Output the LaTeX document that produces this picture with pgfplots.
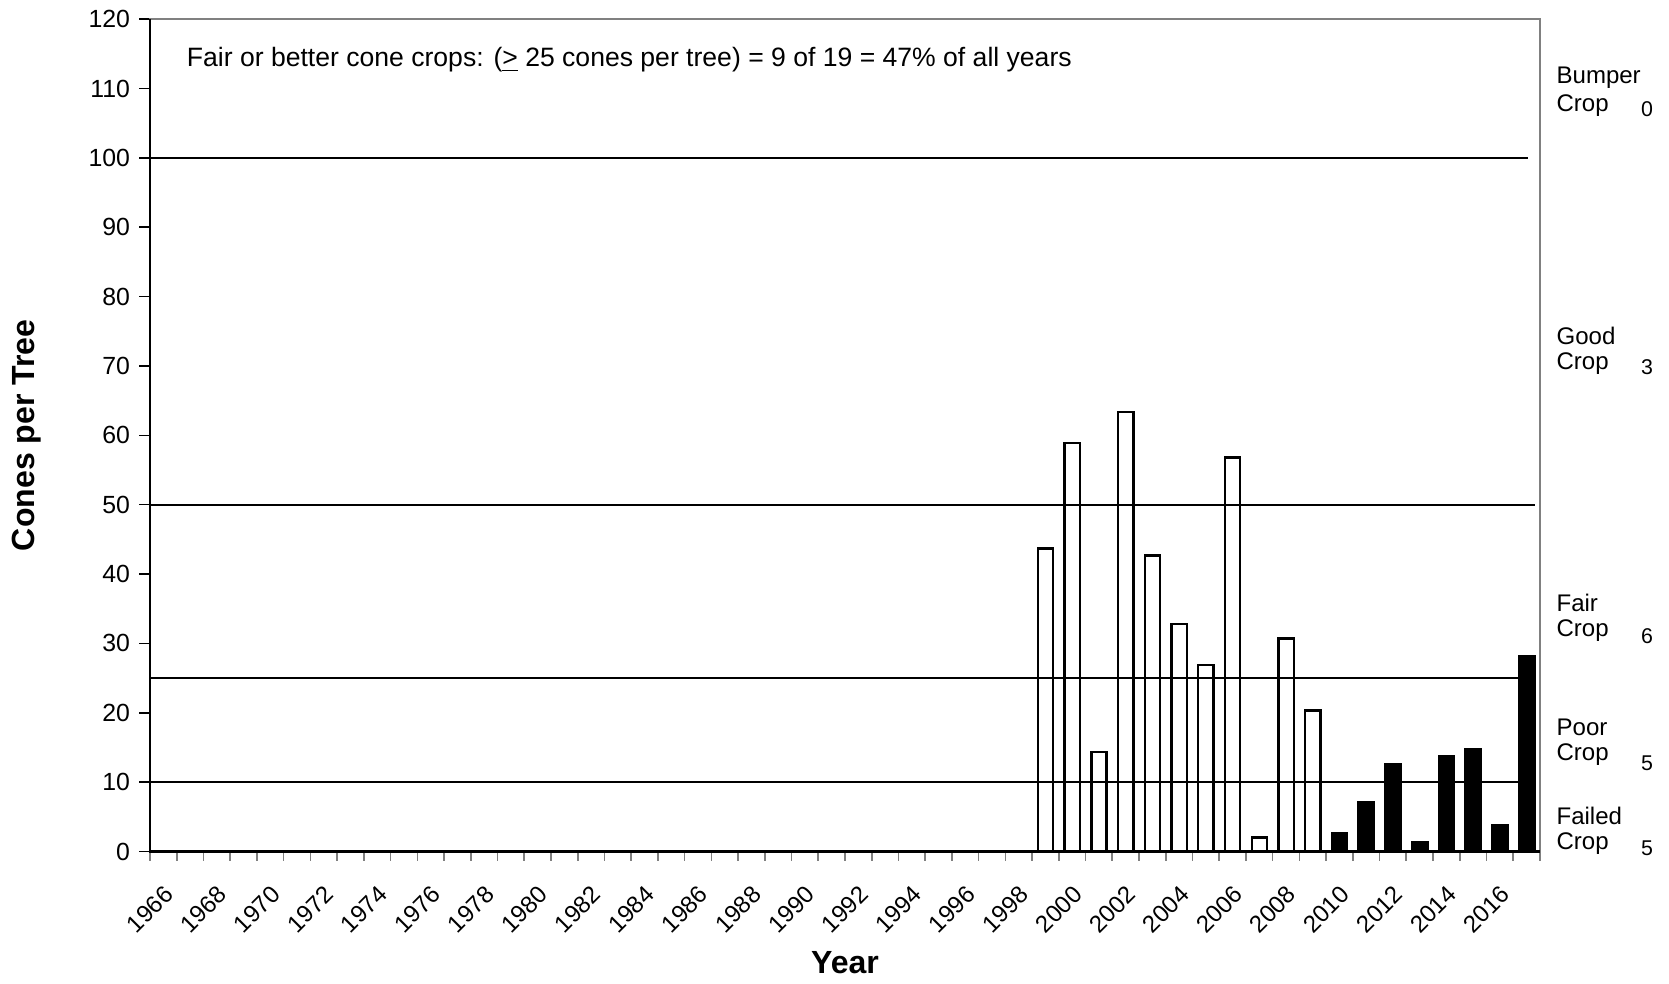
\documentclass[border=0pt]{standalone}
\usepackage{pgfplots}
\pgfplotsset{compat=1.18}
\usepackage{pgfplotstable}
\usepackage{fontspec}
\setmainfont{Liberation Sans}

\pgfplotstableread{
year value
1999 43.7
2000 58.9
2001 14.3
2002 63.4
2003 42.7
2004 32.8
2005 26.9
2006 56.8
2007 2.0
2008 30.7
2009 20.3
}\whitebars
\pgfplotstableread{
year value
2010 2.6
2011 7.1
2012 12.6
2013 1.4
2014 13.7
2015 14.7
2016 3.8
2017 28.2
}\blackbars

\begin{document}
\begin{tikzpicture}
\begin{axis}[
  scale only axis, width=520.6pt, height=311.7pt,
  at={(0,0)}, anchor=south west,
  clip=false,
  xmin=1965.5, xmax=2017.5, ymin=0, ymax=120,
  axis line style={draw=gray, line width=0.8pt},
  xtick={1966,1968,...,2016},
  minor xtick={1965.5,1966.5,...,2017.5},
  ytick={0,10,...,120},
  tick align=outside,
  xtick pos=bottom, ytick pos=left,
  major x tick style={draw=none},
  major tick length=4pt,
  minor tick length=3.5pt,
  every major tick/.style={black, line width=0.6pt},
  every minor tick/.style={gray, line width=0.6pt},
  /pgf/number format/assume math mode=true,
  xticklabel style={xshift=-0.2pt, yshift=-8.1pt, rotate=45, anchor=north east, inner sep=0pt,
     font=\fontsize{9}{10}\selectfont, /pgf/number format/1000 sep={}},
  yticklabel style={font=\fontsize{9.3}{11}\selectfont},
  xlabel={Year},
  ylabel={Cones per Tree},
  every axis x label/.style={at={(axis description cs:0.5,-0.1341)}, anchor=center, font=\fontsize{12}{14}\selectfont\bfseries},
  every axis y label/.style={at={(axis description cs:-0.0887,0.5)}, anchor=center, rotate=90, font=\fontsize{12}{14}\selectfont\bfseries},
]
\addplot[ybar, bar width=0.57, bar shift=0pt, fill=white, draw=black, line width=0.9pt] table[x=year,y=value]{\whitebars};
\addplot[ybar, bar width=0.57, bar shift=0pt, fill=black, draw=black, line width=0.9pt] table[x=year,y=value]{\blackbars};
\addplot[black, line width=0.8pt] coordinates {(1965.5,100) (2017.05,100)};
\addplot[black, line width=0.8pt] coordinates {(1965.5,50) (2017.3,50)};
\addplot[black, line width=0.8pt] coordinates {(1965.5,25) (2017.3,25)};
\addplot[black, line width=0.8pt] coordinates {(1965.5,10) (2017.3,10)};
\draw[black, line width=0.8pt] (rel axis cs:0,1) -- (rel axis cs:0,0) -- (rel axis cs:1,0);

\node[anchor=west, inner sep=0pt, font=\fontsize{9.95}{12}\selectfont] at (axis cs:1966.86,114.2)
  {Fair or better cone crops: (\underline{>} 25 cones per tree) = 9 of 19 = 47\% of all years};

\begin{scope}[every node/.style={anchor=west, inner sep=0pt, font=\fontsize{9}{11}\selectfont}]
\node at (axis cs:2018.1,111.6) {Bumper};
\node at (axis cs:2018.1,107.6) {Crop};
\node at (axis cs:2018.1,74.4) {Good};
\node at (axis cs:2018.1,70.3) {Crop};
\node at (axis cs:2018.1,35.8) {Fair};
\node at (axis cs:2018.1,31.8) {Crop};
\node at (axis cs:2018.1,17.9) {Poor};
\node at (axis cs:2018.1,14.0) {Crop};
\node at (axis cs:2018.1,5.1) {Failed};
\node at (axis cs:2018.1,1.1) {Crop};
\end{scope}
\begin{scope}[every node/.style={anchor=center, inner sep=0pt, font=\fontsize{8}{10}\selectfont}]
\node at (axis cs:2021.5,107.0) {0};
\node at (axis cs:2021.5,69.8) {3};
\node at (axis cs:2021.5,31.0) {6};
\node at (axis cs:2021.5,12.7) {5};
\node at (axis cs:2021.5,0.5) {5};
\end{scope}
\end{axis}
\path[use as bounding box] (-56.2pt,-48.5pt) rectangle (568.9pt,318.9pt);
\end{tikzpicture}
\end{document}
